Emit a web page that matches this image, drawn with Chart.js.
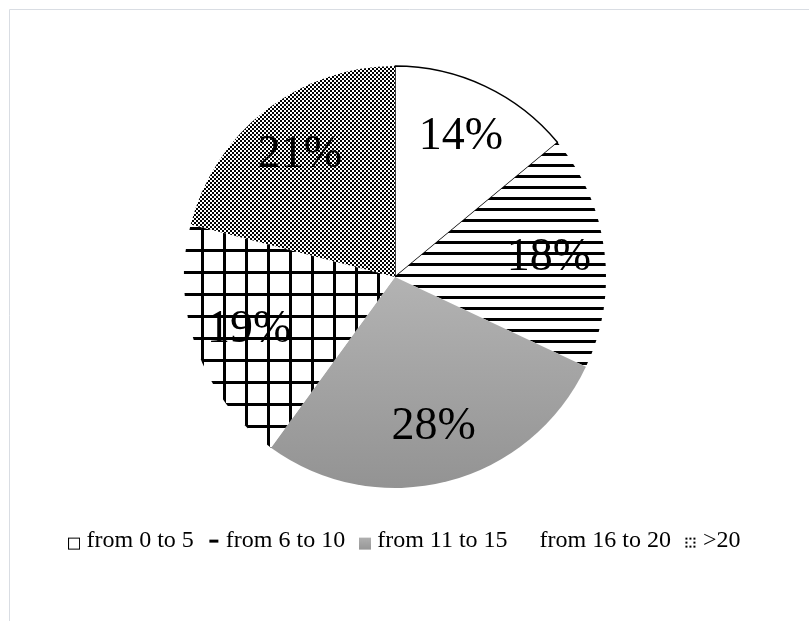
<!DOCTYPE html>
<html>
<head>
<meta charset="utf-8">
<script src="https://cdn.jsdelivr.net/npm/chart.js@4.4.0/dist/chart.umd.min.js"></script>
<style>
  html, body { margin: 0; padding: 0; background: #ffffff; }
  canvas { display: block; }
</style>
</head>
<body>
<canvas id="chart" width="809" height="621"></canvas>
<script>
// Age groups and their shares (%)
const categories = ['from 0 to 5', 'from 6 to 10', 'from 11 to 15', 'from 16 to 20', '>20'];
const shares = [14, 18, 28, 19, 21];
const shareLabels = ['14%', '18%', '28%', '19%', '21%'];

const SERIF = "'Liberation Serif', 'Times New Roman', Times, serif";
const PIE_RADIUS = 211;
const LABEL_RADIUS = 0.735;

const canvas = document.getElementById('chart');
const ctx = canvas.getContext('2d');

// Small bitmap tiles used as hatch fills
function makeTile(w, h, draw) {
  const c = document.createElement('canvas');
  c.width = w; c.height = h;
  const g = c.getContext('2d');
  g.fillStyle = '#ffffff';
  g.fillRect(0, 0, w, h);
  g.fillStyle = '#000000';
  draw(g);
  return c;
}

const stripes = ctx.createPattern(makeTile(1, 11, g => {
  g.fillRect(0, 0, 1, 2);
  g.fillRect(0, 10, 1, 1);
}), 'repeat');

const grid = ctx.createPattern(makeTile(22, 22, g => {
  g.fillRect(3, 0, 3, 22);
  g.fillRect(0, 7, 22, 3);
}), 'repeat');

const confetti = ctx.createPattern(makeTile(4, 4, g => {
  g.fillRect(0, 0, 2, 2);
  g.fillRect(2, 2, 2, 2);
}), 'repeat');

// Vertical grey shading for the "11 to 15" slice
function greyShade(context) {
  const chart = context.chart;
  const area = chart.chartArea;
  if (!area) return '#a6a6a6';
  const cy = (area.top + area.bottom) / 2;
  const g = chart.ctx.createLinearGradient(0, cy, 0, cy + PIE_RADIUS);
  g.addColorStop(0, '#b3b3b3');
  g.addColorStop(1, '#939393');
  return g;
}

const fills = ['#ffffff', stripes, null, grid, confetti];
function sliceFill(context) {
  return context.dataIndex === 2 ? greyShade(context) : fills[context.dataIndex];
}

// Legend keys (drawn a little below the text middle)
function makeKey(draw) {
  const c = document.createElement('canvas');
  c.width = 12; c.height = 22;
  draw(c.getContext('2d'));
  return c;
}
const legendKeys = [
  makeKey(g => {
    g.fillStyle = '#fff'; g.fillRect(0, 8, 12, 12);
    g.strokeStyle = '#000'; g.lineWidth = 1; g.strokeRect(0.5, 8.5, 11, 11);
  }),
  makeKey(g => {
    g.fillStyle = '#000'; g.fillRect(2, 10, 9, 3);
  }),
  makeKey(g => {
    const gr = g.createLinearGradient(0, 8, 0, 20);
    gr.addColorStop(0, '#b0b0b0'); gr.addColorStop(1, '#979797');
    g.fillStyle = gr; g.fillRect(0, 8, 12, 12);
  }),
  makeKey(() => {}),
  makeKey(g => {
    g.fillStyle = '#000';
    [[5, 8], [1, 12], [9, 12], [5, 16], [1, 8], [9, 8], [1, 16], [9, 16]].forEach(([x, y]) => g.fillRect(x, y, 2, 2));
  })
];

// Light outline of the chart area
const frame = {
  id: 'frame',
  beforeDraw(chart) {
    const c = chart.ctx;
    c.save();
    c.strokeStyle = '#d9dde3';
    c.lineWidth = 1;
    c.beginPath();
    c.moveTo(9.5, chart.height);
    c.lineTo(9.5, 9.5);
    c.lineTo(chart.width, 9.5);
    c.stroke();
    c.restore();
  }
};

// Percentage labels placed inside each slice
const sliceLabels = {
  id: 'sliceLabels',
  afterDatasetsDraw(chart) {
    const meta = chart.getDatasetMeta(0);
    const c = chart.ctx;
    c.save();
    c.font = '46px ' + SERIF;
    c.fillStyle = '#000';
    c.textAlign = 'center';
    c.textBaseline = 'middle';
    meta.data.forEach((arc, i) => {
      const p = arc.getProps(['x', 'y', 'startAngle', 'endAngle', 'outerRadius'], true);
      const mid = (p.startAngle + p.endAngle) / 2;
      const r = p.outerRadius * LABEL_RADIUS;
      c.fillText(shareLabels[i], p.x + Math.cos(mid) * r, p.y + Math.sin(mid) * r);
    });
    c.restore();
  }
};

// Nudge the legend row to the right of the pie's centre line
const legendShift = {
  id: 'legendShift',
  afterLayout(chart) {
    const lg = chart.legend;
    if (lg) { lg.left += 12; lg.right += 12; }
  }
};

new Chart(canvas, {
  type: 'pie',
  data: {
    labels: categories,
    datasets: [{
      data: shares,
      backgroundColor: sliceFill,
      borderColor: '#000000',
      borderWidth: [1.5, 0, 0, 0, 0],
      radius: PIE_RADIUS
    }]
  },
  options: {
    responsive: false,
    animation: false,
    events: [],
    layout: { padding: { top: 44.4, bottom: 58.4, left: 0, right: 19 } },
    plugins: {
      tooltip: { enabled: false },
      legend: {
        position: 'bottom',
        align: 'center',
        labels: {
          usePointStyle: true,
          pointStyleWidth: 1,
          padding: 19,
          color: '#000000',
          font: { family: SERIF, size: 24 },
          generateLabels: () => categories.map((text, i) => ({
            text,
            pointStyle: legendKeys[i],
            fillStyle: 'transparent',
            strokeStyle: 'transparent',
            lineWidth: 0,
            hidden: false,
            index: i,
            datasetIndex: 0
          }))
        }
      }
    }
  },
  plugins: [frame, sliceLabels, legendShift]
});
</script>
</body>
</html>
